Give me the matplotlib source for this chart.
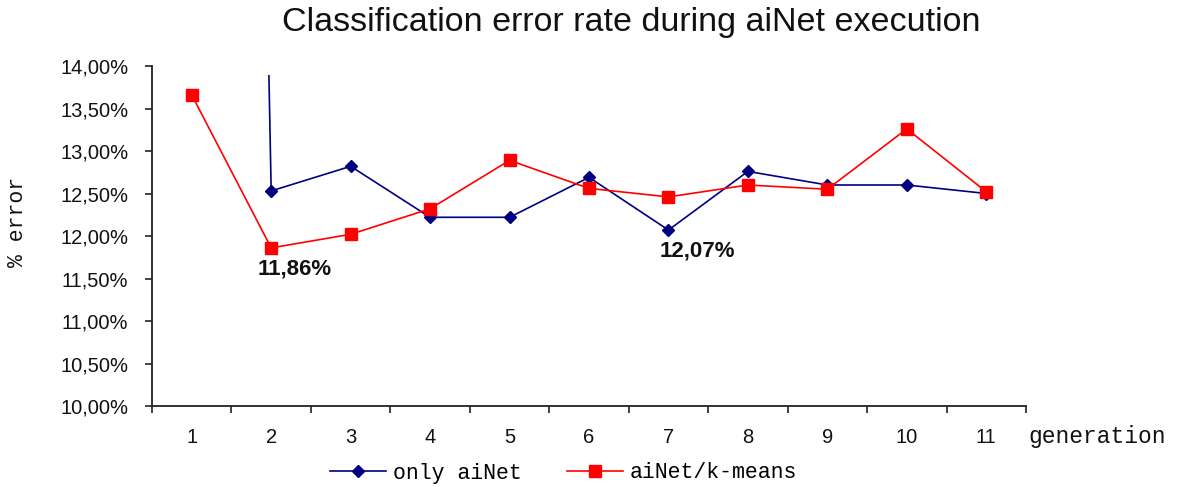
import matplotlib
matplotlib.use("Agg")
from matplotlib import pyplot as plt
from matplotlib.ticker import FuncFormatter, MultipleLocator, FixedLocator
from matplotlib.patches import Rectangle

generations = [1, 2, 3, 4, 5, 6, 7, 8, 9, 10, 11]

# error rate per generation (fraction); first aiNet run is far above the axis
only_ainet = [0.60, 0.1253, 0.1282, 0.1222, 0.1222, 0.1269, 0.1207, 0.1276, 0.1260, 0.1260, 0.1250]
ainet_kmeans = [0.1366, 0.1186, 0.1202, 0.1232, 0.1289, 0.1256, 0.1246, 0.1260, 0.1255, 0.1326, 0.1252]

series_names = ["only aiNet", "aiNet/k-means"]

mono = "Liberation Mono"
sans = "Liberation Sans"

fig = plt.figure(figsize=(11.77, 4.87), dpi=100)
ax = fig.add_axes([152 / 1177, 1 - 406 / 487, (1026 - 152) / 1177, (406 - 66) / 487])

blue_line, = ax.plot(generations, only_ainet, color="#000080", marker="D", markersize=6.5,
                     linewidth=1.2, label=series_names[0])
red_line, = ax.plot(generations, ainet_kmeans, color="#ff0000", marker="s", markersize=8.5,
                    linewidth=1.2, label=series_names[1])

# the runaway first value is cut a bit below the top of the plot area
clip = Rectangle((0, 0), 1, 1 - 9 / 340, transform=ax.transAxes)
blue_line.set_clip_path(clip)

ax.set_xlim(0.5, 11.5)
ax.set_ylim(0.10, 0.14)

ax.yaxis.set_major_locator(MultipleLocator(0.005))
ax.yaxis.set_major_formatter(FuncFormatter(lambda v, p: ("%.2f%%" % (v * 100)).replace(".", ",")))

ax.xaxis.set_major_locator(FixedLocator(generations))
ax.xaxis.set_minor_locator(FixedLocator([g + 0.5 for g in range(0, 12)]))
ax.tick_params(axis="x", which="major", length=0, pad=16)
ax.tick_params(axis="x", which="minor", length=5, width=1.2, direction="out", color="#222222")
ax.tick_params(axis="y", which="major", length=5, width=1.2, direction="out", pad=12, color="#222222")

for lbl in ax.get_xticklabels() + ax.get_yticklabels():
    lbl.set_fontfamily(sans)
    lbl.set_fontsize(14.5)
    lbl.set_color("#111111")

for side in ["top", "right"]:
    ax.spines[side].set_visible(False)
for side in ["left", "bottom"]:
    ax.spines[side].set_linewidth(1.3)
    ax.spines[side].set_color("#222222")

# minimum values of each series
ax.annotate("11,86%", (2, ainet_kmeans[1]), xytext=(-10, -15), textcoords="offset points",
            ha="left", va="center", fontsize=16, fontweight="bold", family=sans, color="#111111")
ax.annotate("12,07%", (7, only_ainet[6]), xytext=(-6, -15), textcoords="offset points",
            ha="left", va="center", fontsize=16, fontweight="bold", family=sans, color="#111111")

fig.text(631 / 1177, 1 - 23 / 487, "Classification error rate during aiNet execution",
         ha="center", va="center", fontsize=24.5, family=sans, color="#111111")
fig.text(1028 / 1177, 1 - 436 / 487, "generation", ha="left", va="center",
         fontsize=16.5, family=mono, color="#111111")
fig.text(18 / 1177, 1 - 222 / 487, "% error", ha="center", va="center", rotation=90,
         fontsize=15.5, family=mono, color="#111111")

fig.legend(handles=[blue_line, red_line], loc="center", bbox_to_anchor=(563.5 / 1177, 1 - 473 / 487),
           ncol=2, frameon=False, prop={"family": mono, "size": 15.5},
           handlelength=2.6, handletextpad=0.3, columnspacing=2.1)

plt.savefig("out.png", dpi=100)
